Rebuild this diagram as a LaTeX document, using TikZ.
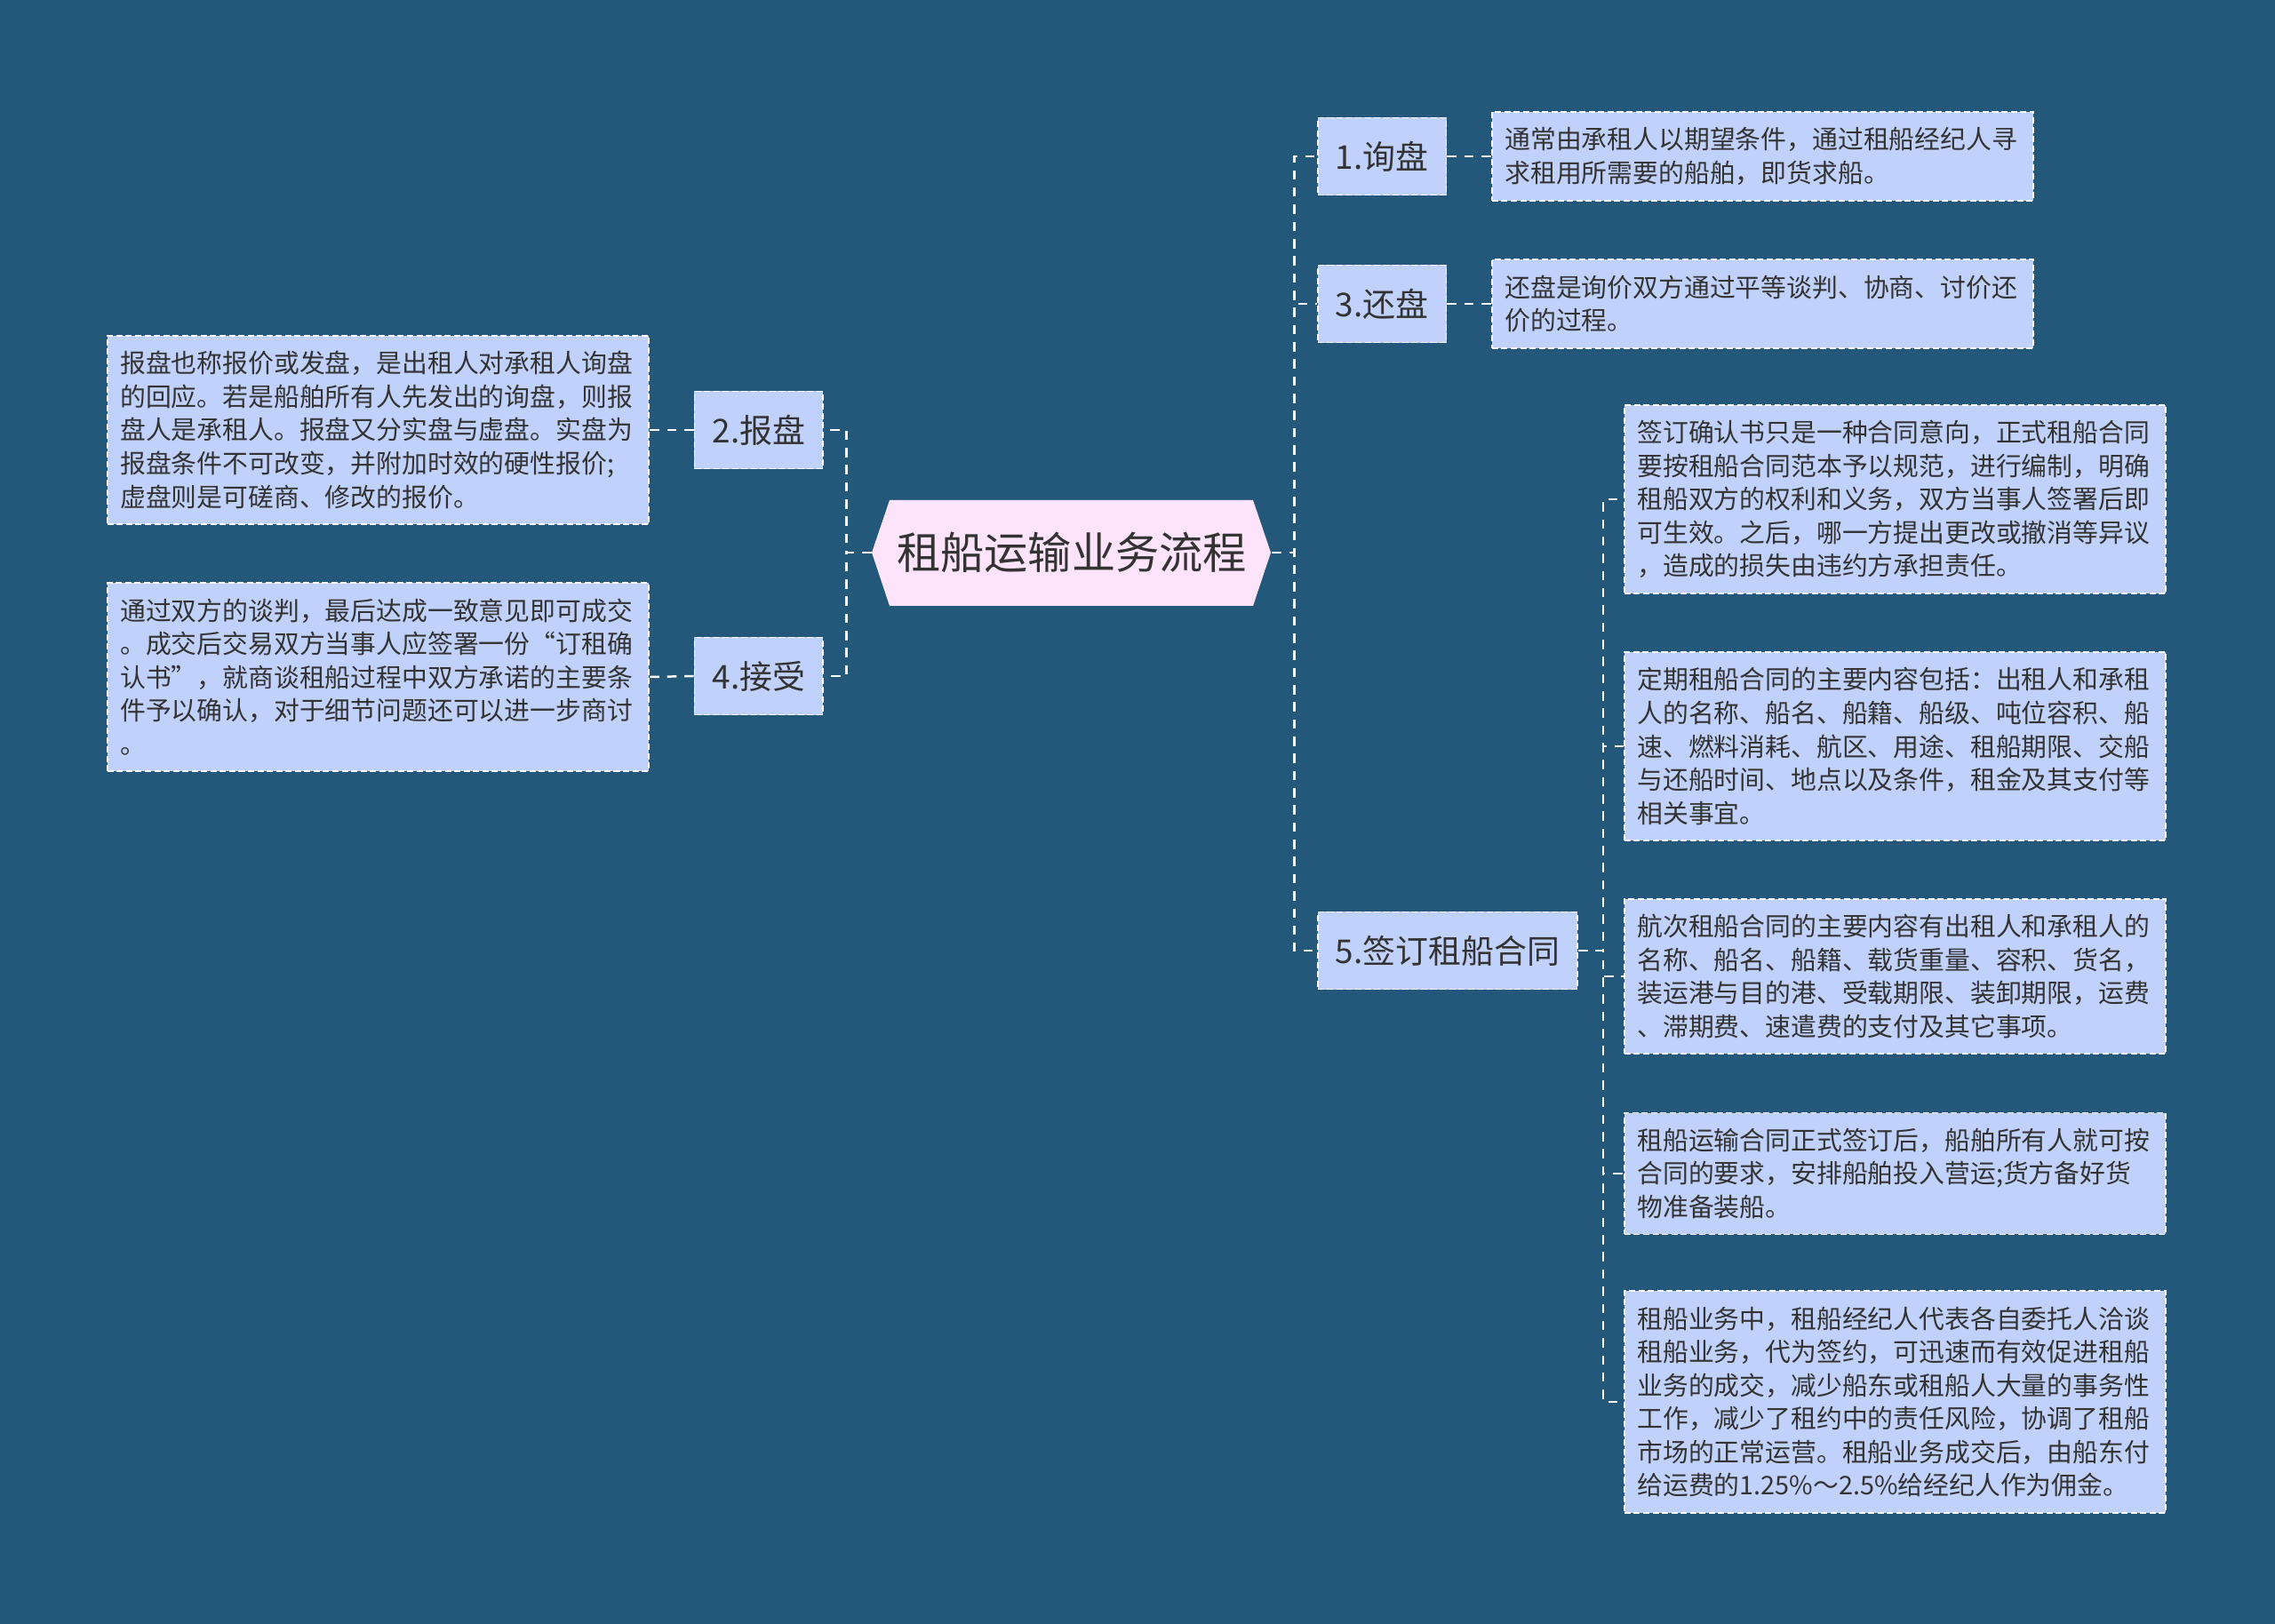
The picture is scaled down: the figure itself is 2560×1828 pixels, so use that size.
\documentclass[tikz,border=0pt]{standalone}
\usepackage{fontspec}
\newfontfamily\cjk{Noto Sans CJK SC}
\usepackage{tikz}
\definecolor{bgblue}{RGB}{36,88,122}
\definecolor{boxblue}{RGB}{192,209,251}
\definecolor{rootpink}{RGB}{253,228,250}
\definecolor{ink}{RGB}{51,51,51}

\begin{document}
\begin{tikzpicture}[x=0.01cm, y=-0.01cm,
  link/.style={draw=white, line width=0.7pt, dash pattern=on 3pt off 2.5pt},
  topic/.style={draw=white, line width=0.5pt, dash pattern=on 2pt off 1pt, fill=boxblue, text=ink,
    font=\cjk\fontsize{10.5}{12}\selectfont, inner xsep=0.2cm, minimum height=0.87cm},
  detail/.style={draw=white, line width=0.5pt, dash pattern=on 2pt off 1pt, fill=boxblue, text=ink,
    font=\cjk\fontsize{8.2}{10.67}\selectfont, text width=5.8cm, align=left, inner xsep=0.145cm, inner ysep=0.175cm}]
\fill[bgblue] (0,0) rectangle (2560,1828);
\useasboundingbox (0,0) rectangle (2560,1828);

% root
\fill[rootpink] (981,622) -- (1001,563) -- (1410,563) -- (1430,622) -- (1410,682) -- (1001,682) -- cycle;
\node[text=ink, font=\cjk\fontsize{14}{16}\selectfont, minimum width=4.49cm, minimum height=1.19cm] (root) at (1206,622) {租船运输业务流程};

% topics
\node[topic, anchor=west] (t1) at (1482,176) {1.询盘};
\node[topic, anchor=west] (t3) at (1482,342) {3.还盘};
\node[topic, anchor=west] (t5) at (1482,1070) {5.签订租船合同};
\node[topic, anchor=east] (t2) at (927,484) {2.报盘};
\node[topic, anchor=east] (t4) at (927,761) {4.接受};

% details
\node[detail, anchor=west] (d1) at (1678,176) {通常由承租人以期望条件，通过租船经纪人寻\\求租用所需要的船舶，即货求船。};
\node[detail, anchor=west] (d3) at (1678,342) {还盘是询价双方通过平等谈判、协商、讨价还\\价的过程。};
\node[detail, anchor=east] (d2) at (731,484) {报盘也称报价或发盘，是出租人对承租人询盘\\的回应。若是船舶所有人先发出的询盘，则报\\盘人是承租人。报盘又分实盘与虚盘。实盘为\\报盘条件不可改变，并附加时效的硬性报价;\\虚盘则是可磋商、修改的报价。};
\node[detail, anchor=east] (d4) at (731,762) {通过双方的谈判，最后达成一致意见即可成交\\。成交后交易双方当事人应签署一份“订租确\\认书”，就商谈租船过程中双方承诺的主要条\\件予以确认，对于细节问题还可以进一步商讨\\。};
\node[detail, anchor=west] (sa) at (1827,562) {签订确认书只是一种合同意向，正式租船合同\\要按租船合同范本予以规范，进行编制，明确\\租船双方的权利和义务，双方当事人签署后即\\可生效。之后，哪一方提出更改或撤消等异议\\，造成的损失由违约方承担责任。};
\node[detail, anchor=west] (sb) at (1827,840) {定期租船合同的主要内容包括：出租人和承租\\人的名称、船名、船籍、船级、吨位容积、船\\速、燃料消耗、航区、用途、租船期限、交船\\与还船时间、地点以及条件，租金及其支付等\\相关事宜。};
\node[detail, anchor=west] (sc) at (1827,1099) {航次租船合同的主要内容有出租人和承租人的\\名称、船名、船籍、载货重量、容积、货名，\\装运港与目的港、受载期限、装卸期限，运费\\、滞期费、速遣费的支付及其它事项。};
\node[detail, anchor=west] (sd) at (1827,1321) {租船运输合同正式签订后，船舶所有人就可按\\合同的要求，安排船舶投入营运;货方备好货\\物准备装船。};
\node[detail, anchor=west] (se) at (1827,1578) {租船业务中，租船经纪人代表各自委托人洽谈\\租船业务，代为签约，可迅速而有效促进租船\\业务的成交，减少船东或租船人大量的事务性\\工作，减少了租约中的责任风险，协调了租船\\市场的正常运营。租船业务成交后，由船东付\\给运费的1.25\%～2.5\%给经纪人作为佣金。};

% connectors
\foreach \t in {t1,t3,t5}
    \draw[link] (root.east) -- ++(25,0) |- (\t.west);
\foreach \t in {t2,t4}
    \draw[link] (root.west) -- ++(-28,0) |- (\t.east);
\draw[link] (t1.east) -- (d1.west);
\draw[link] (t3.east) -- (d3.west);
\draw[link] (t2.west) -- (d2.east);
\draw[link] (t4.west) -- (d4.east);
\foreach \s in {sa,sb,sc,sd,se}
    \draw[link] (t5.east) -- ++(28,0) |- (\s.west);

\end{tikzpicture}
\end{document}
